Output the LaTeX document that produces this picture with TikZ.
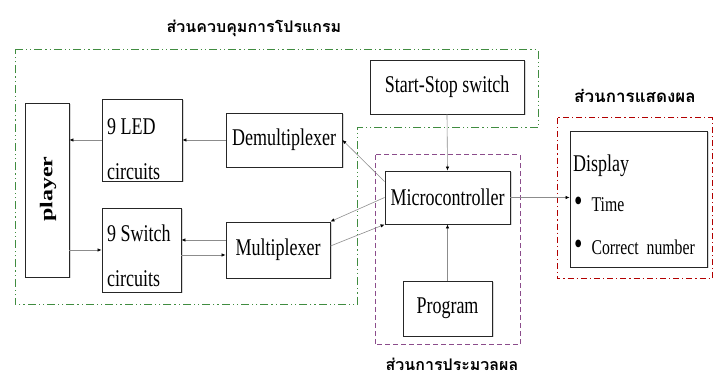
\documentclass[tikz,border=0pt]{standalone}
\usepackage{fontspec}
\setmainfont{Liberation Serif}[FakeStretch=0.75]
\newfontfamily\playerfont{Liberation Serif}[FakeStretch=1.33]
\newfontfamily\thaifont[Script=Thai]{Loma}
\usetikzlibrary{shapes, positioning, arrows.meta, shadows}

\begin{document}
\begin{tikzpicture}[
          x=1pt, y=-1pt,
          block/.style={draw=black!85, line width=0.9pt, fill=white, inner sep=0pt,
            drop shadow={shadow xshift=1.5pt, shadow yshift=-1.5pt, fill=black!30},
            font=\fontsize{24}{28}\selectfont},
          txt/.style={anchor=base west, inner sep=0pt},
          conn/.style={draw=black!45, line width=0.6pt, -{Latex[color=black,length=4pt,width=3.5pt]}},
          title/.style={anchor=base, inner sep=0pt, font=\thaifont\bfseries\fontsize{16}{19}\selectfont},
          progpart/.style={draw=green!40!black!75, line width=1pt, dash pattern=on 8pt off 3pt on 1.2pt off 3pt on 1.2pt off 3pt},
          procpart/.style={draw=violet!70!black!70, line width=1pt, dash pattern=on 5pt off 3pt},
          disppart/.style={draw=red!70!black, line width=1pt, dash pattern=on 6pt off 3pt on 1.2pt off 3pt}
        ]
        \useasboundingbox (0,0) rectangle (713,379);
        \draw[progpart] (15,50) -- (538,50) -- (538,128) -- (357,128) -- (357,305) -- (15,305) -- cycle;
        \draw[procpart] (375,155) rectangle (520,345);
        \draw[disppart] (557,118) rectangle (712,279);

        \node[title] (tprog) at (254,33) {ส่วนควบคุมการโปรแกรม};
        \node[title, font=\thaifont\bfseries\fontsize{17}{20}\selectfont] (tdisp) at (635,103) {ส่วนการแสดงผล};
        \node[title] (tproc) at (452,371) {ส่วนการประมวลผล};

        \node[block, minimum width=44pt, minimum height=174pt] (player) at (47,190) {};
        \node[inner sep=0pt, font=\playerfont\bfseries\fontsize{18}{20}\selectfont] (playertxt) at (48,189) {\rotatebox{90}{player}};
        \node[block, minimum width=80pt, minimum height=82pt] (led) at (142,140) {};
        \node[txt] (ledtop) at (107,135) {\fontsize{24}{28}\selectfont 9 LED};
        \node[txt] (ledbot) at (107,180) {\fontsize{24}{28}\selectfont circuits};
        \node[block, minimum width=79pt, minimum height=84pt] (sw) at (141.5,250) {};
        \node[txt] (swtop) at (107,242) {\fontsize{24}{28}\selectfont 9 Switch};
        \node[txt] (swbot) at (107,287) {\fontsize{24}{28}\selectfont circuits};
        \node[block, minimum width=116pt, minimum height=54pt] (demux) at (284,140) {Demultiplexer};
        \node[block, minimum width=104pt, minimum height=56pt] (mux) at (278,250) {Multiplexer};
        \node[block, minimum width=154pt, minimum height=54pt] (start) at (447,87) {Start-Stop switch};
        \node[block, minimum width=125pt, minimum height=53pt] (micro) at (447.5,197.5) {Microcontroller};
        \node[block, minimum width=89pt, minimum height=55pt] (prog) at (447.5,308.5) {Program};
        \node[block, minimum width=137pt, minimum height=136pt] (disp) at (638.5,199) {};
        \node[txt] (disptxt) at (573,172) {\fontsize{24}{28}\selectfont Display};
        \node[txt] (time) at (574,212) {\fontsize{21}{24}\selectfont{\fontsize{32}{32}\selectfont\textbullet}\hspace{9pt}Time};
        \node[txt] (correct) at (574,255) {\fontsize{21}{24}\selectfont{\fontsize{32}{32}\selectfont\textbullet}\hspace{9pt}Correct\ \ number};

        \draw[conn] (led.west) -- (led.west -| player.east);
        \draw[conn] (demux.west) -- (demux.west -| led.east);
        \draw[conn] ([yshift=16pt]micro.west) -- (demux.east);
        \draw[conn] (micro.west) -- (mux.north east);
        \draw[conn] ([yshift=4pt]mux.east) -- (micro.south west);
        \draw[conn] (sw.west -| player.east) -- (sw.west);
        \draw[conn] ([yshift=10pt]mux.west) -- ([yshift=10pt]mux.west -| sw.east);
        \draw[conn] ([yshift=-5pt]mux.west -| sw.east) -- ([yshift=-5pt]mux.west);
        \draw[conn] (start.south) -- (micro.north);
        \draw[conn] (prog.north) -- (micro.south);
        \draw[conn] (micro.east) -- (micro.east -| disp.west);
        \end{tikzpicture}
\end{document}
